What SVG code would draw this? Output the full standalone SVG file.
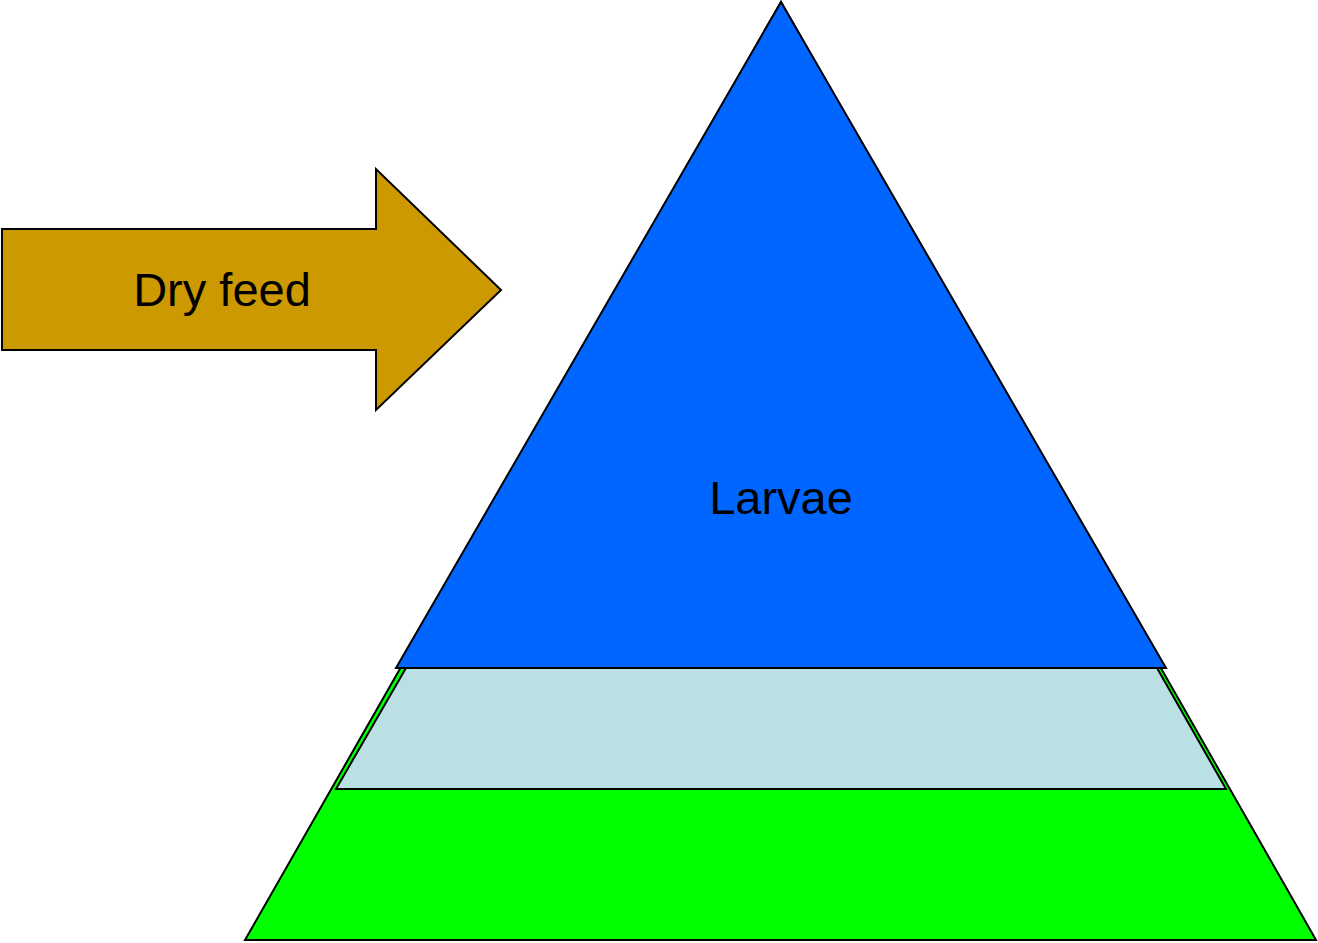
<svg xmlns="http://www.w3.org/2000/svg" width="1318" height="943" viewBox="0 0 1318 943">
<style>
.s{stroke:#000;stroke-width:2;stroke-linejoin:miter}
.t{font-family:"Liberation Sans",Arial,sans-serif;font-size:47px;fill:#000;text-anchor:middle}
</style>
<rect width="1318" height="943" fill="#fff"/>
<g id="base">
<polygon class="s" fill="#00FF00" points="781,2 1316,940 245,940"/>
</g>
<g id="middle">
<polygon class="s" fill="#BBE0E3" points="406,668 1157,668 1226,789 336,789"/>
</g>
<g id="larvae">
<polygon class="s" fill="#0066FF" points="781,2 1166,668 396,668"/>
<text class="t" x="781" y="514">Larvae</text>
</g>
<g id="dryfeed">
<polygon class="s" fill="#CC9900" points="2,229 376,229 376,169 501,290 376,410 376,350 2,350"/>
<text class="t" x="222" y="306">Dry feed</text>
</g>
<g id="connectors"></g>
</svg>
